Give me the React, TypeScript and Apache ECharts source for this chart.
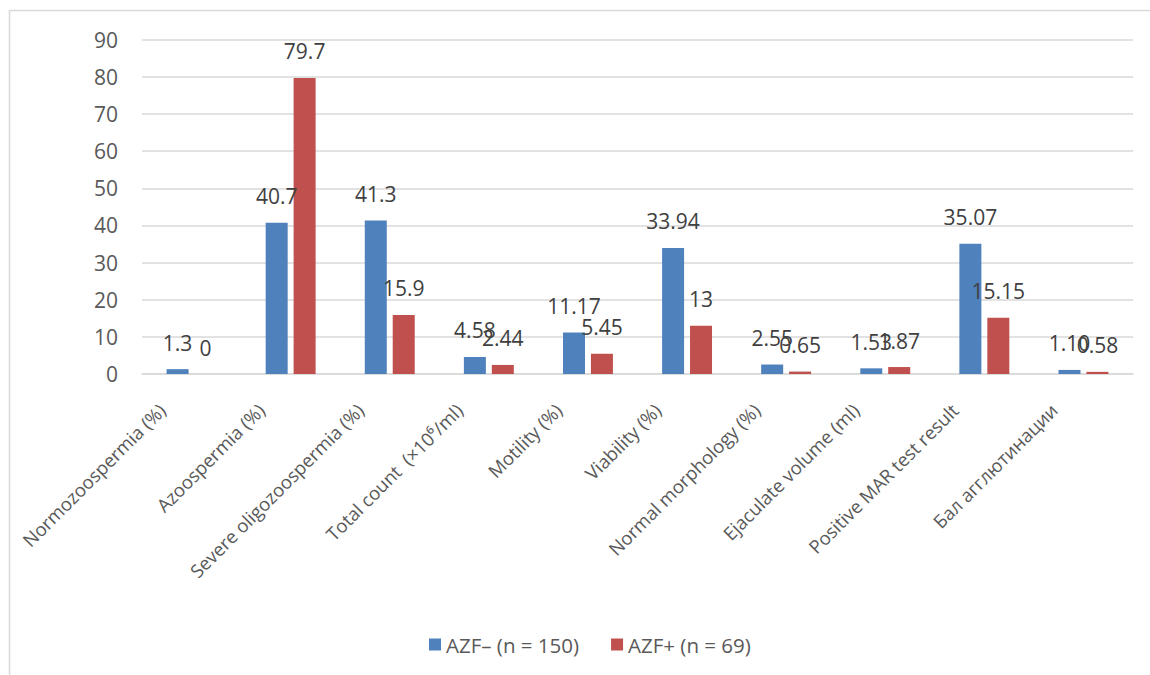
import React, { useEffect, useRef } from "react";
import * as echarts from "echarts";

const categories = [
  "Normozoospermia (%)",
  "Azoospermia (%)",
  "Severe oligozoospermia (%)",
  "Total count  (×10⁶/ml)",
  "Motility (%)",
  "Viability (%)",
  "Normal morphology (%)",
  "Ejaculate volume (ml)",
  "Positive MAR test result",
  "Бал агглютинации",
];
const azfNegative = [1.3, 40.7, 41.3, 4.58, 11.17, 33.94, 2.55, 1.53, 35.07, 1.1];
const azfNegativeLabels = ["1.3", "40.7", "41.3", "4.58", "11.17", "33.94", "2.55", "1.53", "35.07", "1.10"];
const azfPositive = [0, 79.7, 15.9, 2.44, 5.45, 13, 0.65, 1.87, 15.15, 0.58];
const azfPositiveLabels = ["0", "79.7", "15.9", "2.44", "5.45", "13", "0.65", "1.87", "15.15", "0.58"];
const seriesNames = ["AZF– (n = 150)", "AZF+ (n = 69)"];

const FONT = "Open Sans";

export default function App() {
  const ref = useRef<HTMLDivElement>(null);
  useEffect(() => {
    document.body.style.margin = "0";
    const chart = echarts.init(ref.current!, null, { renderer: "svg" });
    const labelStyle = (texts: string[]) => ({
      show: true,
      position: "top",
      distance: 16,
      color: "#404040",
      fontFamily: FONT,
      fontSize: 21,
      formatter: (p: any) => texts[p.dataIndex],
    });
    chart.setOption({
      animation: false,
      backgroundColor: "#ffffff",
      grid: { left: 142, right: 17, top: 39.7, bottom: 301, containLabel: false },
      legend: {
        left: 424,
        top: 629,
        itemWidth: 12,
        itemHeight: 12,
        itemGap: 32,
        icon: "rect",
        textStyle: { color: "#595959", fontFamily: FONT, fontSize: 20.5 },
        data: seriesNames,
      },
      xAxis: {
        type: "category",
        data: categories,
        axisLine: { show: true, lineStyle: { color: "#d9d9d9", width: 1.5 } },
        axisTick: { show: false },
        axisLabel: {
          rotate: 45,
          interval: 0,
          margin: 3,
          padding: [0, 42, 0, 0],
          color: "#595959",
          fontFamily: FONT,
          fontSize: 18.5,
        },
      },
      yAxis: {
        type: "value",
        min: 0,
        max: 90,
        interval: 10,
        axisLine: { show: false },
        axisTick: { show: false },
        splitLine: { lineStyle: { color: "#d9d9d9", width: 1.5 } },
        axisLabel: { color: "#595959", fontFamily: FONT, fontSize: 21, margin: 24 },
      },
      series: [
        {
          name: seriesNames[0],
          type: "bar",
          data: azfNegative,
          barWidth: 22,
          barGap: "27%",
          itemStyle: { color: "#4F81BD" },
          label: labelStyle(azfNegativeLabels),
        },
        {
          name: seriesNames[1],
          type: "bar",
          data: azfPositive,
          barWidth: 22,
          itemStyle: { color: "#C0504D" },
          label: labelStyle(azfPositiveLabels),
        },
      ],
      graphic: [
        {
          type: "polyline",
          shape: { points: [[9.5, 675], [9.5, 10.5], [1150, 10.5]] },
          style: { stroke: "#d9d9d9", lineWidth: 1.5, fill: "none" },
          silent: true,
        },
      ],
    });
    return () => chart.dispose();
  }, []);
  return <div ref={ref} style={{ width: 1150, height: 675 }} />;
}
